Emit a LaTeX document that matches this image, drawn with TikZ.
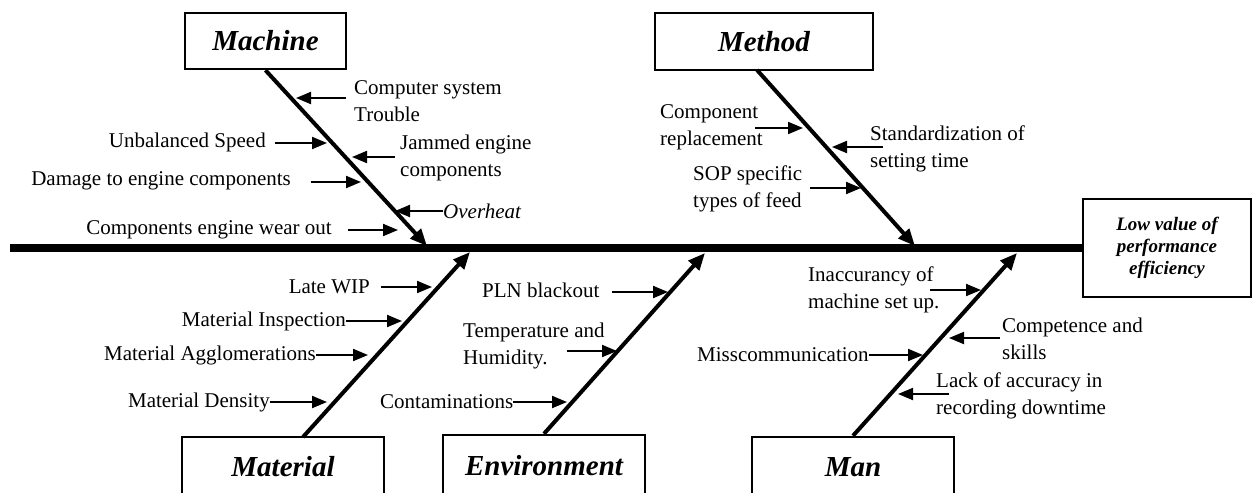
\documentclass[tikz,border=0pt]{standalone}
\usepackage{fontspec}
\setmainfont{Liberation Serif}
\usetikzlibrary{arrows.meta}
\begin{document}
\begin{tikzpicture}[x=1pt,y=-1pt,
  catbox/.style={draw, line width=2.5pt, inner sep=0pt, font=\fontsize{29}{33}\selectfont\bfseries\itshape},
  effbox/.style={draw, line width=2.5pt, inner sep=0pt, align=center, font=\fontsize{19}{22}\selectfont\bfseries\itshape},
  lbl/.style={inner sep=0pt, align=left, font=\fontsize{21}{27}\selectfont},
  spine/.style={line width=8pt},
  bone/.style={line width=4pt, -{Triangle[length=17pt,width=14pt]}},
  sarrow/.style={line width=2pt, -{Triangle[length=15pt,width=12pt]}}
]
\useasboundingbox (0,0) rectangle (1254,493);
\clip (0,0) rectangle (1254,493);

% effect box and spine
\node[effbox, minimum width=168pt, minimum height=98pt] (eff) at (1167,248) {Low value of\\performance\\efficiency};
\coordinate (sp0) at (10,248);
\draw[spine] (sp0) -- (eff.west);

% category boxes
\node[catbox, minimum width=161pt, minimum height=56pt] (mach) at (265.5,41) {Machine};
\node[catbox, minimum width=218pt, minimum height=57pt] (meth) at (764,41.5) {Method};
\node[catbox, minimum width=202pt, minimum height=60pt] (mat) at (283,467) {Material};
\node[catbox, minimum width=202pt, minimum height=62pt] (env) at (544,466) {Environment};
\node[catbox, minimum width=202pt, minimum height=60pt] (man) at (853,467) {Man};

% bone ends on spine
\coordinate (machT) at (427,246);
\coordinate (methS) at (757,70);
\coordinate (methT) at (915,246);
\coordinate (matT) at (470,252);
\coordinate (envT) at (705,253);
\coordinate (manT) at (1017,253);
\coordinate (matS) at (303,437);
\draw[bone] (mach.south) -- (machT);
\draw[bone] (methS) -- (methT);
\draw[bone] (matS) -- (matT);
\draw[bone] (env.north) -- (envT);
\draw[bone] (man.north) -- (manT);

% Machine causes
\node[lbl, anchor=west] (c1) at (354,101) {Computer system\\Trouble};
\coordinate (c1s) at (346,98); \coordinate (c1e) at (296,98);
\draw[sarrow] (c1s) -- (c1e);
\node[lbl, anchor=east] (c2) at (266,142) {Unbalanced Speed};
\coordinate (c2s) at (275,143); \coordinate (c2e) at (327,143);
\draw[sarrow] (c2s) -- (c2e);
\node[lbl, anchor=west] (c3) at (400,158) {Jammed engine\\components};
\coordinate (c3s) at (395,157); \coordinate (c3e) at (352,157);
\draw[sarrow] (c3s) -- (c3e);
\node[lbl, anchor=east] (c4) at (291,181) {Damage to engine components};
\coordinate (c4s) at (311,182); \coordinate (c4e) at (361,182);
\draw[sarrow] (c4s) -- (c4e);
\node[lbl, anchor=west, font=\fontsize{21}{27}\selectfont\itshape] (c5) at (443,211) {Overheat};
\coordinate (c5e) at (395,0);
\draw[sarrow] (c5.west) -- (c5.west -| c5e);
\node[lbl, anchor=east] (c6) at (332,230) {Components engine wear out};
\coordinate (c6s) at (348,230); \coordinate (c6e) at (398,230);
\draw[sarrow] (c6s) -- (c6e);

% Method causes
\node[lbl, anchor=west] (d1) at (660,127) {Component\\replacement};
\coordinate (d1s) at (755,128); \coordinate (d1e) at (803,128);
\draw[sarrow] (d1s) -- (d1e);
\node[lbl, anchor=west] (d2) at (870,149) {Standardization of\\setting time};
\coordinate (d2s) at (883,147); \coordinate (d2e) at (832,147);
\draw[sarrow] (d2s) -- (d2e);
\node[lbl, anchor=west] (d3) at (693,189) {SOP specific\\types of feed};
\coordinate (d3s) at (810,188); \coordinate (d3e) at (861,188);
\draw[sarrow] (d3s) -- (d3e);

% Material causes
\node[lbl, anchor=east] (m1) at (370,287) {Late WIP};
\coordinate (m1s) at (381,287); \coordinate (m1e) at (432,287);
\draw[sarrow] (m1s) -- (m1e);
\node[lbl, anchor=east] (m2) at (346,321) {Material Inspection};
\coordinate (m2e) at (402,0);
\draw[sarrow] (m2.east) -- (m2.east -| m2e);
\node[lbl, anchor=east] (m3) at (316,355) {Material Agglomerations};
\coordinate (m3e) at (368,0);
\draw[sarrow] (m3.east) -- (m3.east -| m3e);
\node[lbl, anchor=east] (m4) at (270,402) {Material Density};
\coordinate (m4e) at (327,0);
\draw[sarrow] (m4.east) -- (m4.east -| m4e);

% Environment causes
\node[lbl, anchor=west] (e1) at (482,290) {PLN blackout};
\coordinate (e1s) at (612,292); \coordinate (e1e) at (668,292);
\draw[sarrow] (e1s) -- (e1e);
\node[lbl, anchor=west] (e2) at (463,346) {Temperature and\\Humidity.};
\coordinate (e2s) at (567,351); \coordinate (e2e) at (617,351);
\draw[sarrow] (e2s) -- (e2e);
\node[lbl, anchor=west] (e3) at (380,402) {Contaminations};
\coordinate (e3e) at (567,0);
\draw[sarrow] (e3.east) -- (e3.east -| e3e);

% Man causes
\node[lbl, anchor=west] (n1) at (808,290) {Inaccurancy of\\machine set up.};
\coordinate (n1s) at (930,290); \coordinate (n1e) at (981,290);
\draw[sarrow] (n1s) -- (n1e);
\node[lbl, anchor=west] (n2) at (1002,339) {Competence and\\skills};
\coordinate (n2s) at (1000,338); \coordinate (n2e) at (949,338);
\draw[sarrow] (n2s) -- (n2e);
\node[lbl, anchor=west] (n3) at (697,355) {Misscommunication};
\coordinate (n3e) at (923,0);
\draw[sarrow] (n3.east) -- (n3.east -| n3e);
\node[lbl, anchor=west] (n4) at (936,396) {Lack of accuracy in\\recording downtime};
\coordinate (n4s) at (949,394); \coordinate (n4e) at (898,394);
\draw[sarrow] (n4s) -- (n4e);
\end{tikzpicture}
\end{document}
